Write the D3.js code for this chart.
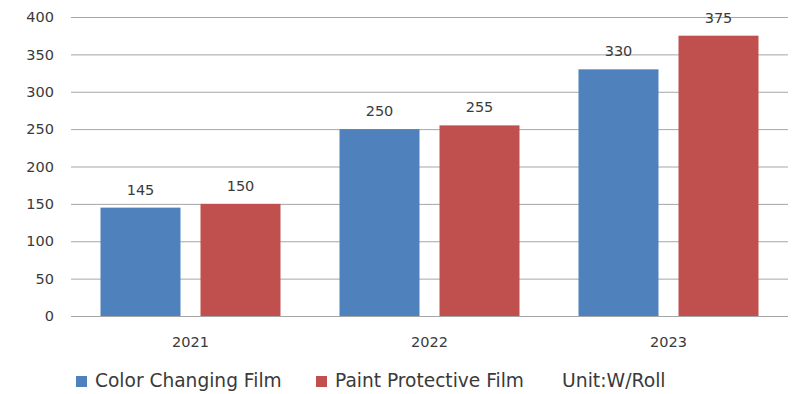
<!DOCTYPE html>
<html>
<head>
<meta charset="utf-8">
<script src="https://cdn.jsdelivr.net/npm/d3@7"></script>
<style>
  html, body { margin: 0; padding: 0; background: #fff; }
  svg { display: block; font-family: "DejaVu Sans", "Noto Sans", sans-serif; }
</style>
</head>
<body>
<svg id="chart" width="795" height="394"></svg>
<script>
const years = ["2021", "2022", "2023"];
const colorFilm = [145, 250, 330];
const paintFilm = [150, 255, 375];
const seriesNames = ["Color Changing Film", "Paint Protective Film"];
const seriesColors = ["#4F81BD", "#C0504D"];
const yTicks = [0, 50, 100, 150, 200, 250, 300, 350, 400];
const unitLabel = "Unit:W/Roll";

const svg = d3.select("#chart");
const plot = { left: 71, right: 788, top: 17, bottom: 316 };
const textColor = "#3a3a3a";

const x = d3.scaleBand().domain(years).range([plot.left, plot.right]).paddingInner(0).paddingOuter(0);
const y = d3.scaleLinear().domain([0, 400]).range([plot.bottom, plot.top]);
const inner = d3.scaleBand().domain([0, 1]).range([29.5, x.bandwidth() - 29.5]).paddingInner(0.2);

// gridlines
svg.append("g").selectAll("line").data(yTicks).join("line")
  .attr("x1", plot.left).attr("x2", plot.right)
  .attr("y1", d => y(d) + 0.5).attr("y2", d => y(d) + 0.5)
  .attr("stroke", "#a6a6a6").attr("stroke-width", 1);

// y tick labels
svg.append("g").selectAll("text").data(yTicks).join("text")
  .attr("x", 54).attr("y", d => y(d)).attr("dy", "0.36em")
  .attr("text-anchor", "end").attr("font-size", 14.5).attr("fill", textColor)
  .text(d => d);

// bars and value labels
const series = [colorFilm, paintFilm];
const groups = svg.append("g").selectAll("g").data(years).join("g")
  .attr("transform", d => `translate(${x(d)},0)`);

groups.each(function(yr, i) {
  const g = d3.select(this);
  series.forEach((vals, s) => {
    g.append("rect")
      .attr("x", inner(s)).attr("width", inner.bandwidth())
      .attr("y", y(vals[i])).attr("height", y(0) - y(vals[i]))
      .attr("fill", seriesColors[s]);
    g.append("text")
      .attr("x", inner(s) + inner.bandwidth() / 2)
      .attr("y", y(vals[i]) - 13)
      .attr("text-anchor", "middle").attr("font-size", 14.5).attr("fill", textColor)
      .text(vals[i]);
  });
});

// category labels
svg.append("g").selectAll("text").data(years).join("text")
  .attr("x", d => x(d) + x.bandwidth() / 2).attr("y", 347)
  .attr("text-anchor", "middle").attr("font-size", 14.5).attr("fill", textColor)
  .text(d => d);

// legend
const legendX = [76, 316];
seriesNames.forEach((name, s) => {
  svg.append("rect").attr("x", legendX[s]).attr("y", 376).attr("width", 11).attr("height", 11)
    .attr("fill", seriesColors[s]);
  svg.append("text").attr("x", legendX[s] + 19).attr("y", 387)
    .attr("font-size", 18.6).attr("fill", textColor).text(name);
});
svg.append("text").attr("x", 562).attr("y", 387)
  .attr("font-size", 18.8).attr("fill", textColor).text(unitLabel);
</script>
</body>
</html>
